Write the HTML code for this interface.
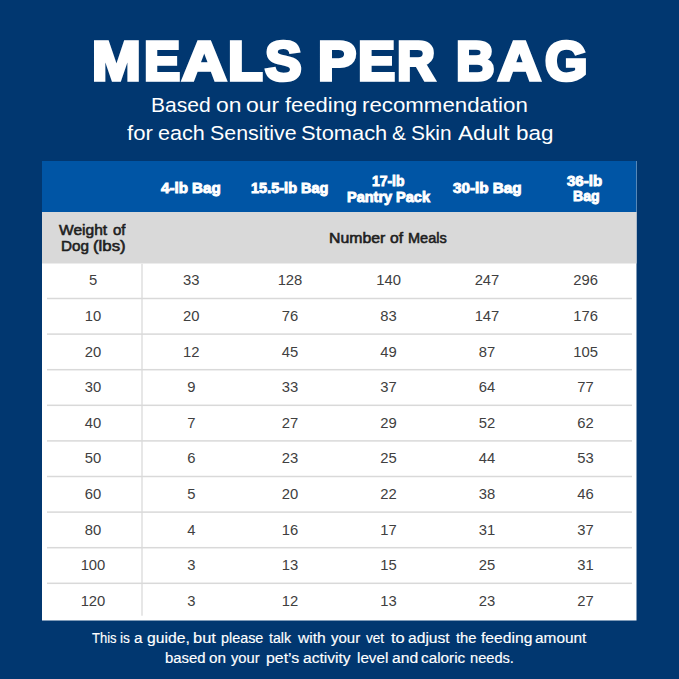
<!DOCTYPE html>
<html><head><meta charset="utf-8"><style>
html,body{margin:0;padding:0;}
body{width:679px;height:679px;background:#013770;position:relative;overflow:hidden;font-family:"Liberation Sans", sans-serif;}
.t{position:absolute;line-height:1;white-space:nowrap;text-align:center;transform-origin:50% 50%;}
.r{position:absolute;}
.w{position:absolute;line-height:1;white-space:nowrap;color:#fff;transform-origin:0 0;}
.ti{position:absolute;top:33.7px;font-size:54.8px;line-height:1;font-weight:700;color:#fff;-webkit-text-stroke:3px #fff;transform-origin:0 0;white-space:nowrap;}
</style></head><body>
<svg width="679" height="679" viewBox="0 0 679 679" style="position:absolute;left:0;top:0"><rect x="42" y="161" width="594.5" height="459.5" fill="#fff"/><rect x="42" y="161" width="594.5" height="102.5" fill="#d9d9d9"/><rect x="42" y="161" width="594.5" height="51" fill="#0055a5"/><rect x="141" y="263.5" width="2" height="352.20" fill="#e7e7e7"/><rect x="47" y="297.75" width="585" height="1.5" fill="#d9d9d9"/><rect x="47" y="333.35" width="585" height="1.5" fill="#d9d9d9"/><rect x="47" y="368.95" width="585" height="1.5" fill="#d9d9d9"/><rect x="47" y="404.55" width="585" height="1.5" fill="#d9d9d9"/><rect x="47" y="440.15" width="585" height="1.5" fill="#d9d9d9"/><rect x="47" y="475.75" width="585" height="1.5" fill="#d9d9d9"/><rect x="47" y="511.35" width="585" height="1.5" fill="#d9d9d9"/><rect x="47" y="546.95" width="585" height="1.5" fill="#d9d9d9"/><rect x="47" y="582.55" width="585" height="1.5" fill="#d9d9d9"/></svg>
<div class="w" style="left:91.97px;top:33.50px;font-size:55.0px;font-weight:700;-webkit-text-stroke:3.6px #fff;transform:scaleX(1.0643)">M</div>
<div class="w" style="left:143.53px;top:33.50px;font-size:55.0px;font-weight:700;-webkit-text-stroke:3.6px #fff;transform:scaleX(0.9853)">E</div>
<div class="w" style="left:182.12px;top:33.50px;font-size:55.0px;font-weight:700;-webkit-text-stroke:3.6px #fff;transform:scaleX(1.1190)">A</div>
<div class="w" style="left:227.64px;top:33.50px;font-size:55.0px;font-weight:700;-webkit-text-stroke:3.6px #fff;transform:scaleX(1.0312)">L</div>
<div class="w" style="left:264.50px;top:33.50px;font-size:55.0px;font-weight:700;-webkit-text-stroke:3.6px #fff;transform:scaleX(0.9972)">S</div>
<div class="w" style="left:318.21px;top:33.50px;font-size:55.0px;font-weight:700;-webkit-text-stroke:3.6px #fff;transform:scaleX(1.0429)">P</div>
<div class="w" style="left:358.28px;top:33.50px;font-size:55.0px;font-weight:700;-webkit-text-stroke:3.6px #fff;transform:scaleX(1.0118)">E</div>
<div class="w" style="left:396.88px;top:33.50px;font-size:55.0px;font-weight:700;-webkit-text-stroke:3.6px #fff;transform:scaleX(0.9575)">R</div>
<div class="w" style="left:455.76px;top:33.50px;font-size:55.0px;font-weight:700;-webkit-text-stroke:3.6px #fff;transform:scaleX(0.9703)">B</div>
<div class="w" style="left:497.58px;top:33.50px;font-size:55.0px;font-weight:700;-webkit-text-stroke:3.6px #fff;transform:scaleX(1.0786)">A</div>
<div class="w" style="left:544.70px;top:33.50px;font-size:55.0px;font-weight:700;-webkit-text-stroke:3.6px #fff;transform:scaleX(0.9927)">G</div>
<div class="w" style="left:150.75px;top:95.3px;font-size:20.5px;font-weight:400;transform:scaleX(1.0273);">Based</div>
<div class="w" style="left:215.69px;top:95.3px;font-size:20.5px;font-weight:400;transform:scaleX(1.1143);">on</div>
<div class="w" style="left:246.18px;top:95.3px;font-size:20.5px;font-weight:400;transform:scaleX(1.1179);">our</div>
<div class="w" style="left:284.80px;top:95.3px;font-size:20.5px;font-weight:400;transform:scaleX(1.0727);">feeding</div>
<div class="w" style="left:362.21px;top:95.3px;font-size:20.5px;font-weight:400;transform:scaleX(1.0860);">recommendation</div>
<div class="w" style="left:126.80px;top:122.9px;font-size:20.5px;font-weight:400;transform:scaleX(1.0792);">for</div>
<div class="w" style="left:158.05px;top:122.9px;font-size:20.5px;font-weight:400;transform:scaleX(1.0524);">each</div>
<div class="w" style="left:209.56px;top:122.9px;font-size:20.5px;font-weight:400;transform:scaleX(1.0420);">Sensitive</div>
<div class="w" style="left:300.73px;top:122.9px;font-size:20.5px;font-weight:400;transform:scaleX(1.0658);">Stomach</div>
<div class="w" style="left:391.98px;top:122.9px;font-size:20.5px;font-weight:400;transform:scaleX(1.0167);">&amp;</div>
<div class="w" style="left:411.18px;top:122.9px;font-size:20.5px;font-weight:400;transform:scaleX(1.0184);">Skin</div>
<div class="w" style="left:457.70px;top:122.9px;font-size:20.5px;font-weight:400;transform:scaleX(1.1000);">Adult</div>
<div class="w" style="left:516.01px;top:122.9px;font-size:20.5px;font-weight:400;transform:scaleX(1.0938);">bag</div>
<div class="w" style="left:161.40px;top:181.10px;font-size:14.3px;font-weight:700;-webkit-text-stroke-width:0.9px;transform:scaleX(1.0589)">4-lb Bag</div>
<div class="w" style="left:251.20px;top:181.20px;font-size:14.3px;font-weight:700;-webkit-text-stroke-width:0.9px;transform:scaleX(1.0158)">15.5-lb Bag</div>
<div class="w" style="left:372.00px;top:173.50px;font-size:14.3px;font-weight:700;-webkit-text-stroke-width:0.9px;transform:scaleX(0.9735)">17-lb</div>
<div class="w" style="left:346.90px;top:189.60px;font-size:14.3px;font-weight:700;-webkit-text-stroke-width:0.9px;transform:scaleX(1.0134)">Pantry Pack</div>
<div class="w" style="left:452.70px;top:181.20px;font-size:14.3px;font-weight:700;-webkit-text-stroke-width:0.9px;transform:scaleX(1.0656)">30-lb Bag</div>
<div class="w" style="left:567.30px;top:173.50px;font-size:14.3px;font-weight:700;-webkit-text-stroke-width:0.9px;transform:scaleX(1.0529)">36-lb</div>
<div class="w" style="left:572.60px;top:188.60px;font-size:14.3px;font-weight:700;-webkit-text-stroke-width:0.9px;transform:scaleX(0.9852)">Bag</div>
<div class="w" style="left:59.20px;top:224.0px;font-size:13.8px;font-weight:400;-webkit-text-stroke-width:0.55px;transform:scaleX(1.1279);color:#1e1e1e">Weight</div>
<div class="w" style="left:112.90px;top:224.0px;font-size:13.8px;font-weight:400;-webkit-text-stroke-width:0.55px;transform:scaleX(1.0833);color:#1e1e1e">of</div>
<div class="w" style="left:60.80px;top:240.0px;font-size:13.8px;font-weight:400;-webkit-text-stroke-width:0.55px;transform:scaleX(1.1042);color:#1e1e1e">Dog</div>
<div class="w" style="left:93.28px;top:240.0px;font-size:13.8px;font-weight:400;-webkit-text-stroke-width:0.55px;transform:scaleX(1.2160);color:#1e1e1e">(lbs)</div>
<div class="w" style="left:329.35px;top:232.4px;font-size:13.8px;font-weight:400;-webkit-text-stroke-width:0.55px;transform:scaleX(1.1458);color:#1e1e1e">Number</div>
<div class="w" style="left:389.70px;top:232.4px;font-size:13.8px;font-weight:400;-webkit-text-stroke-width:0.55px;transform:scaleX(1.1333);color:#1e1e1e">of</div>
<div class="w" style="left:407.65px;top:232.4px;font-size:13.8px;font-weight:400;-webkit-text-stroke-width:0.55px;transform:scaleX(1.0528);color:#1e1e1e">Meals</div>
<div class="t" style="left:48.00px;top:273.47px;width:90px;font-size:14.8px;font-weight:400;color:#404040;transform:scaleX(1.0);letter-spacing:0px">5</div>
<div class="t" style="left:146.30px;top:273.47px;width:90px;font-size:14.8px;font-weight:400;color:#404040;transform:scaleX(1.0);letter-spacing:0px">33</div>
<div class="t" style="left:245.00px;top:273.47px;width:90px;font-size:14.8px;font-weight:400;color:#404040;transform:scaleX(1.0);letter-spacing:0px">128</div>
<div class="t" style="left:343.60px;top:273.47px;width:90px;font-size:14.8px;font-weight:400;color:#404040;transform:scaleX(1.0);letter-spacing:0px">140</div>
<div class="t" style="left:442.00px;top:273.47px;width:90px;font-size:14.8px;font-weight:400;color:#404040;transform:scaleX(1.0);letter-spacing:0px">247</div>
<div class="t" style="left:540.60px;top:273.47px;width:90px;font-size:14.8px;font-weight:400;color:#404040;transform:scaleX(1.0);letter-spacing:0px">296</div>
<div class="t" style="left:48.00px;top:309.05px;width:90px;font-size:14.8px;font-weight:400;color:#404040;transform:scaleX(1.0);letter-spacing:0px">10</div>
<div class="t" style="left:146.30px;top:309.05px;width:90px;font-size:14.8px;font-weight:400;color:#404040;transform:scaleX(1.0);letter-spacing:0px">20</div>
<div class="t" style="left:245.00px;top:309.05px;width:90px;font-size:14.8px;font-weight:400;color:#404040;transform:scaleX(1.0);letter-spacing:0px">76</div>
<div class="t" style="left:343.60px;top:309.05px;width:90px;font-size:14.8px;font-weight:400;color:#404040;transform:scaleX(1.0);letter-spacing:0px">83</div>
<div class="t" style="left:442.00px;top:309.05px;width:90px;font-size:14.8px;font-weight:400;color:#404040;transform:scaleX(1.0);letter-spacing:0px">147</div>
<div class="t" style="left:540.60px;top:309.05px;width:90px;font-size:14.8px;font-weight:400;color:#404040;transform:scaleX(1.0);letter-spacing:0px">176</div>
<div class="t" style="left:48.00px;top:344.63px;width:90px;font-size:14.8px;font-weight:400;color:#404040;transform:scaleX(1.0);letter-spacing:0px">20</div>
<div class="t" style="left:146.30px;top:344.63px;width:90px;font-size:14.8px;font-weight:400;color:#404040;transform:scaleX(1.0);letter-spacing:0px">12</div>
<div class="t" style="left:245.00px;top:344.63px;width:90px;font-size:14.8px;font-weight:400;color:#404040;transform:scaleX(1.0);letter-spacing:0px">45</div>
<div class="t" style="left:343.60px;top:344.63px;width:90px;font-size:14.8px;font-weight:400;color:#404040;transform:scaleX(1.0);letter-spacing:0px">49</div>
<div class="t" style="left:442.00px;top:344.63px;width:90px;font-size:14.8px;font-weight:400;color:#404040;transform:scaleX(1.0);letter-spacing:0px">87</div>
<div class="t" style="left:540.60px;top:344.63px;width:90px;font-size:14.8px;font-weight:400;color:#404040;transform:scaleX(1.0);letter-spacing:0px">105</div>
<div class="t" style="left:48.00px;top:380.21px;width:90px;font-size:14.8px;font-weight:400;color:#404040;transform:scaleX(1.0);letter-spacing:0px">30</div>
<div class="t" style="left:146.30px;top:380.21px;width:90px;font-size:14.8px;font-weight:400;color:#404040;transform:scaleX(1.0);letter-spacing:0px">9</div>
<div class="t" style="left:245.00px;top:380.21px;width:90px;font-size:14.8px;font-weight:400;color:#404040;transform:scaleX(1.0);letter-spacing:0px">33</div>
<div class="t" style="left:343.60px;top:380.21px;width:90px;font-size:14.8px;font-weight:400;color:#404040;transform:scaleX(1.0);letter-spacing:0px">37</div>
<div class="t" style="left:442.00px;top:380.21px;width:90px;font-size:14.8px;font-weight:400;color:#404040;transform:scaleX(1.0);letter-spacing:0px">64</div>
<div class="t" style="left:540.60px;top:380.21px;width:90px;font-size:14.8px;font-weight:400;color:#404040;transform:scaleX(1.0);letter-spacing:0px">77</div>
<div class="t" style="left:48.00px;top:415.79px;width:90px;font-size:14.8px;font-weight:400;color:#404040;transform:scaleX(1.0);letter-spacing:0px">40</div>
<div class="t" style="left:146.30px;top:415.79px;width:90px;font-size:14.8px;font-weight:400;color:#404040;transform:scaleX(1.0);letter-spacing:0px">7</div>
<div class="t" style="left:245.00px;top:415.79px;width:90px;font-size:14.8px;font-weight:400;color:#404040;transform:scaleX(1.0);letter-spacing:0px">27</div>
<div class="t" style="left:343.60px;top:415.79px;width:90px;font-size:14.8px;font-weight:400;color:#404040;transform:scaleX(1.0);letter-spacing:0px">29</div>
<div class="t" style="left:442.00px;top:415.79px;width:90px;font-size:14.8px;font-weight:400;color:#404040;transform:scaleX(1.0);letter-spacing:0px">52</div>
<div class="t" style="left:540.60px;top:415.79px;width:90px;font-size:14.8px;font-weight:400;color:#404040;transform:scaleX(1.0);letter-spacing:0px">62</div>
<div class="t" style="left:48.00px;top:451.37px;width:90px;font-size:14.8px;font-weight:400;color:#404040;transform:scaleX(1.0);letter-spacing:0px">50</div>
<div class="t" style="left:146.30px;top:451.37px;width:90px;font-size:14.8px;font-weight:400;color:#404040;transform:scaleX(1.0);letter-spacing:0px">6</div>
<div class="t" style="left:245.00px;top:451.37px;width:90px;font-size:14.8px;font-weight:400;color:#404040;transform:scaleX(1.0);letter-spacing:0px">23</div>
<div class="t" style="left:343.60px;top:451.37px;width:90px;font-size:14.8px;font-weight:400;color:#404040;transform:scaleX(1.0);letter-spacing:0px">25</div>
<div class="t" style="left:442.00px;top:451.37px;width:90px;font-size:14.8px;font-weight:400;color:#404040;transform:scaleX(1.0);letter-spacing:0px">44</div>
<div class="t" style="left:540.60px;top:451.37px;width:90px;font-size:14.8px;font-weight:400;color:#404040;transform:scaleX(1.0);letter-spacing:0px">53</div>
<div class="t" style="left:48.00px;top:486.95px;width:90px;font-size:14.8px;font-weight:400;color:#404040;transform:scaleX(1.0);letter-spacing:0px">60</div>
<div class="t" style="left:146.30px;top:486.95px;width:90px;font-size:14.8px;font-weight:400;color:#404040;transform:scaleX(1.0);letter-spacing:0px">5</div>
<div class="t" style="left:245.00px;top:486.95px;width:90px;font-size:14.8px;font-weight:400;color:#404040;transform:scaleX(1.0);letter-spacing:0px">20</div>
<div class="t" style="left:343.60px;top:486.95px;width:90px;font-size:14.8px;font-weight:400;color:#404040;transform:scaleX(1.0);letter-spacing:0px">22</div>
<div class="t" style="left:442.00px;top:486.95px;width:90px;font-size:14.8px;font-weight:400;color:#404040;transform:scaleX(1.0);letter-spacing:0px">38</div>
<div class="t" style="left:540.60px;top:486.95px;width:90px;font-size:14.8px;font-weight:400;color:#404040;transform:scaleX(1.0);letter-spacing:0px">46</div>
<div class="t" style="left:48.00px;top:522.53px;width:90px;font-size:14.8px;font-weight:400;color:#404040;transform:scaleX(1.0);letter-spacing:0px">80</div>
<div class="t" style="left:146.30px;top:522.53px;width:90px;font-size:14.8px;font-weight:400;color:#404040;transform:scaleX(1.0);letter-spacing:0px">4</div>
<div class="t" style="left:245.00px;top:522.53px;width:90px;font-size:14.8px;font-weight:400;color:#404040;transform:scaleX(1.0);letter-spacing:0px">16</div>
<div class="t" style="left:343.60px;top:522.53px;width:90px;font-size:14.8px;font-weight:400;color:#404040;transform:scaleX(1.0);letter-spacing:0px">17</div>
<div class="t" style="left:442.00px;top:522.53px;width:90px;font-size:14.8px;font-weight:400;color:#404040;transform:scaleX(1.0);letter-spacing:0px">31</div>
<div class="t" style="left:540.60px;top:522.53px;width:90px;font-size:14.8px;font-weight:400;color:#404040;transform:scaleX(1.0);letter-spacing:0px">37</div>
<div class="t" style="left:48.00px;top:558.11px;width:90px;font-size:14.8px;font-weight:400;color:#404040;transform:scaleX(1.0);letter-spacing:0px">100</div>
<div class="t" style="left:146.30px;top:558.11px;width:90px;font-size:14.8px;font-weight:400;color:#404040;transform:scaleX(1.0);letter-spacing:0px">3</div>
<div class="t" style="left:245.00px;top:558.11px;width:90px;font-size:14.8px;font-weight:400;color:#404040;transform:scaleX(1.0);letter-spacing:0px">13</div>
<div class="t" style="left:343.60px;top:558.11px;width:90px;font-size:14.8px;font-weight:400;color:#404040;transform:scaleX(1.0);letter-spacing:0px">15</div>
<div class="t" style="left:442.00px;top:558.11px;width:90px;font-size:14.8px;font-weight:400;color:#404040;transform:scaleX(1.0);letter-spacing:0px">25</div>
<div class="t" style="left:540.60px;top:558.11px;width:90px;font-size:14.8px;font-weight:400;color:#404040;transform:scaleX(1.0);letter-spacing:0px">31</div>
<div class="t" style="left:48.00px;top:593.69px;width:90px;font-size:14.8px;font-weight:400;color:#404040;transform:scaleX(1.0);letter-spacing:0px">120</div>
<div class="t" style="left:146.30px;top:593.69px;width:90px;font-size:14.8px;font-weight:400;color:#404040;transform:scaleX(1.0);letter-spacing:0px">3</div>
<div class="t" style="left:245.00px;top:593.69px;width:90px;font-size:14.8px;font-weight:400;color:#404040;transform:scaleX(1.0);letter-spacing:0px">12</div>
<div class="t" style="left:343.60px;top:593.69px;width:90px;font-size:14.8px;font-weight:400;color:#404040;transform:scaleX(1.0);letter-spacing:0px">13</div>
<div class="t" style="left:442.00px;top:593.69px;width:90px;font-size:14.8px;font-weight:400;color:#404040;transform:scaleX(1.0);letter-spacing:0px">23</div>
<div class="t" style="left:540.60px;top:593.69px;width:90px;font-size:14.8px;font-weight:400;color:#404040;transform:scaleX(1.0);letter-spacing:0px">27</div>
<div class="w" style="left:92.10px;top:631.2px;font-size:14px;font-weight:400;transform:scaleX(0.9269);-webkit-text-stroke:0.15px #fff">This</div>
<div class="w" style="left:119.92px;top:631.2px;font-size:14px;font-weight:400;transform:scaleX(0.9778);-webkit-text-stroke:0.15px #fff">is</div>
<div class="w" style="left:134.01px;top:631.2px;font-size:14px;font-weight:400;transform:scaleX(1.0857);-webkit-text-stroke:0.15px #fff">a</div>
<div class="w" style="left:147.08px;top:631.2px;font-size:14px;font-weight:400;transform:scaleX(1.1222);-webkit-text-stroke:0.15px #fff">guide,</div>
<div class="w" style="left:192.72px;top:631.2px;font-size:14px;font-weight:400;transform:scaleX(1.1778);-webkit-text-stroke:0.15px #fff">but</div>
<div class="w" style="left:220.97px;top:631.2px;font-size:14px;font-weight:400;transform:scaleX(1.0250);-webkit-text-stroke:0.15px #fff">please</div>
<div class="w" style="left:268.90px;top:631.2px;font-size:14px;font-weight:400;transform:scaleX(1.0136);-webkit-text-stroke:0.15px #fff">talk</div>
<div class="w" style="left:297.60px;top:631.2px;font-size:14px;font-weight:400;transform:scaleX(1.1167);-webkit-text-stroke:0.15px #fff">with</div>
<div class="w" style="left:330.90px;top:631.2px;font-size:14px;font-weight:400;transform:scaleX(1.0704);-webkit-text-stroke:0.15px #fff">your</div>
<div class="w" style="left:366.30px;top:631.2px;font-size:14px;font-weight:400;transform:scaleX(0.9684);-webkit-text-stroke:0.15px #fff">vet</div>
<div class="w" style="left:391.20px;top:631.2px;font-size:14px;font-weight:400;transform:scaleX(1.1727);-webkit-text-stroke:0.15px #fff">to</div>
<div class="w" style="left:408.38px;top:631.2px;font-size:14px;font-weight:400;transform:scaleX(1.1167);-webkit-text-stroke:0.15px #fff">adjust</div>
<div class="w" style="left:455.60px;top:631.2px;font-size:14px;font-weight:400;transform:scaleX(1.0526);-webkit-text-stroke:0.15px #fff">the</div>
<div class="w" style="left:480.90px;top:631.2px;font-size:14px;font-weight:400;transform:scaleX(1.1178);-webkit-text-stroke:0.15px #fff">feeding</div>
<div class="w" style="left:535.40px;top:631.2px;font-size:14px;font-weight:400;transform:scaleX(1.1000);-webkit-text-stroke:0.15px #fff">amount</div>
<div class="w" style="left:164.84px;top:651.2px;font-size:14px;font-weight:400;transform:scaleX(1.0639);-webkit-text-stroke:0.15px #fff">based</div>
<div class="w" style="left:209.01px;top:651.2px;font-size:14px;font-weight:400;transform:scaleX(1.0929);-webkit-text-stroke:0.15px #fff">on</div>
<div class="w" style="left:231.30px;top:651.2px;font-size:14px;font-weight:400;transform:scaleX(1.0519);-webkit-text-stroke:0.15px #fff">your</div>
<div class="w" style="left:265.66px;top:651.2px;font-size:14px;font-weight:400;transform:scaleX(1.1357);-webkit-text-stroke:0.15px #fff">pet&#8217;s</div>
<div class="w" style="left:303.39px;top:651.2px;font-size:14px;font-weight:400;transform:scaleX(1.1119);-webkit-text-stroke:0.15px #fff">activity</div>
<div class="w" style="left:356.61px;top:651.2px;font-size:14px;font-weight:400;transform:scaleX(1.0889);-webkit-text-stroke:0.15px #fff">level</div>
<div class="w" style="left:391.58px;top:651.2px;font-size:14px;font-weight:400;transform:scaleX(1.1190);-webkit-text-stroke:0.15px #fff">and</div>
<div class="w" style="left:421.01px;top:651.2px;font-size:14px;font-weight:400;transform:scaleX(1.0923);-webkit-text-stroke:0.15px #fff">caloric</div>
<div class="w" style="left:470.16px;top:651.2px;font-size:14px;font-weight:400;transform:scaleX(1.0450);-webkit-text-stroke:0.15px #fff">needs.</div>
</body></html>
